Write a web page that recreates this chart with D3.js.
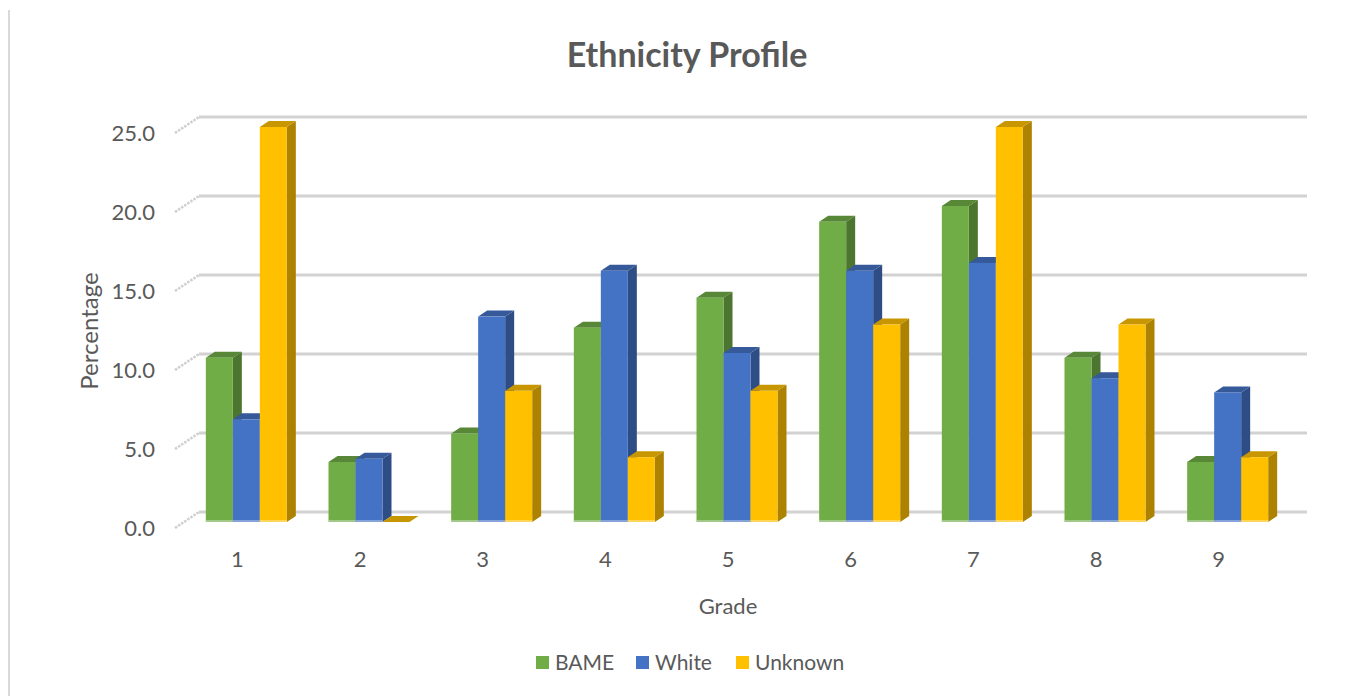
<!DOCTYPE html>
<html>
<head>
<meta charset="utf-8">
<script src="https://cdn.jsdelivr.net/npm/d3@7"></script>
<style>
  body { margin: 0; background: #fff; }
  text { font-family: Lato, 'Open Sans', sans-serif; fill: #595959; }
</style>
</head>
<body>
<svg id="chart" width="1349" height="696"></svg>
<script>
// Grade categories and the percentage per ethnicity group
const categories = ['1', '2', '3', '4', '5', '6', '7', '8', '9'];
const bame = [10.4, 3.8, 5.6, 12.3, 14.2, 19.0, 20.0, 10.4, 3.8];
const white = [6.5, 4.0, 13.0, 15.9, 10.7, 15.9, 16.4, 9.1, 8.2];
const unknown = [25.0, 0.0, 8.3, 4.1, 8.3, 12.5, 25.0, 12.5, 4.1];
const seriesNames = ['BAME', 'White', 'Unknown'];
const yTicks = [0, 5, 10, 15, 20, 25];

const colours = ['#70ad47', '#4472c4', '#ffc000'];
const series = [bame, white, unknown];

const svg = d3.select('#chart');

// left border of the chart area
svg.append('line')
    .attr('x1', 9).attr('x2', 9)
    .attr('y1', 10).attr('y2', 696)
    .attr('stroke', '#d9d9d9')
    .attr('stroke-width', 2);

// floor front plane scales; depth is a vector going back and up
const x = d3.scaleBand().domain(categories).range([176, 1280]);
const y = d3.scaleLinear().domain([0, 25]).range([528, 133]);
const depth = { dx: 24, dy: -16 };
const wallRight = 1307;

// back wall gridlines + side wall stubs
const grid = svg.append('g');
yTicks.forEach(v => {
    grid.append('line')
        .attr('x1', 175).attr('y1', y(v))
        .attr('x2', 175 + depth.dx).attr('y2', y(v) + depth.dy)
        .attr('stroke', '#cfcfcf')
        .attr('stroke-width', 2.5)
        .attr('stroke-dasharray', '2.5,1.2');
    grid.append('line')
        .attr('x1', 175 + depth.dx).attr('y1', y(v) + depth.dy)
        .attr('x2', wallRight).attr('y2', y(v) + depth.dy)
        .attr('stroke', '#d2d2d2')
        .attr('stroke-width', 3);
});

// bars sit between 37.5% and 75% of the depth
const front = { dx: depth.dx * 0.375, dy: depth.dy * 0.375 };
const side = { dx: depth.dx * 0.375, dy: depth.dy * 0.375 };
const barW = 27;
const sub = d3.scaleBand().domain(d3.range(3)).range([0, barW * 3]);

const bars = svg.append('g');
categories.forEach((c, i) => {
    const cx = x(c) + x.bandwidth() / 2 + front.dx - barW * 1.5;
    series.forEach((s, k) => {
        const col = d3.color(colours[k]);
        const x0 = cx + sub(k);
        const x1 = x0 + barW;
        const yt = y(s[i]) + front.dy;
        const yb = y(0) + front.dy;
        const g = bars.append('g');
        // side face
        g.append('path')
            .attr('d', `M${x1},${yt}L${x1 + side.dx},${yt + side.dy}L${x1 + side.dx},${yb + side.dy}L${x1},${yb}Z`)
            .attr('fill', col.darker(1.1));
        // top face
        g.append('path')
            .attr('d', `M${x0},${yt}L${x1},${yt}L${x1 + side.dx},${yt + side.dy}L${x0 + side.dx},${yt + side.dy}Z`)
            .attr('fill', col.darker(0.7));
        // front face
        g.append('rect')
            .attr('x', x0).attr('y', yt)
            .attr('width', barW).attr('height', yb - yt)
            .attr('fill', colours[k]);
        // light strip at the base
        if (s[i] > 0) {
            g.append('rect')
                .attr('x', x0).attr('y', yb - 2)
                .attr('width', barW).attr('height', 4)
                .attr('fill', '#fff').attr('opacity', 0.35);
        }
    });
});

// value axis
const yAxis = svg.append('g')
    .attr('transform', 'translate(160,0)')
    .call(d3.axisLeft(y).tickValues(yTicks).tickSize(0).tickPadding(5).tickFormat(d3.format('.1f')));
yAxis.select('.domain').remove();
yAxis.selectAll('text')
    .attr('font-size', 22)
    .style('font-family', 'Lato, sans-serif')
    .attr('fill', '#595959');

// category axis
const xAxis = svg.append('g')
    .attr('transform', 'translate(0,539)')
    .call(d3.axisBottom(x).tickSize(0).tickPadding(12));
xAxis.select('.domain').remove();
xAxis.selectAll('text')
    .attr('font-size', 22)
    .style('font-family', 'Lato, sans-serif')
    .attr('fill', '#595959');

// title and axis titles
svg.append('text')
    .attr('x', 687).attr('y', 67)
    .attr('text-anchor', 'middle')
    .attr('font-size', 34)
    .attr('font-weight', 'bold')
    .text('Ethnicity Profile');

svg.append('text')
    .attr('transform', 'translate(98,331) rotate(-90)')
    .attr('text-anchor', 'middle')
    .attr('font-size', 24)
    .text('Percentage');

svg.append('text')
    .attr('x', 728).attr('y', 614)
    .attr('text-anchor', 'middle')
    .attr('font-size', 22)
    .text('Grade');

// legend
const legendX = [536, 636, 736];
const legend = svg.append('g');
seriesNames.forEach((n, k) => {
    legend.append('rect')
        .attr('x', legendX[k]).attr('y', 656)
        .attr('width', 13).attr('height', 13)
        .attr('fill', colours[k]);
    legend.append('text')
        .attr('x', legendX[k] + 19).attr('y', 670)
        .attr('font-size', 21)
        .text(n);
});
</script>
</body>
</html>
